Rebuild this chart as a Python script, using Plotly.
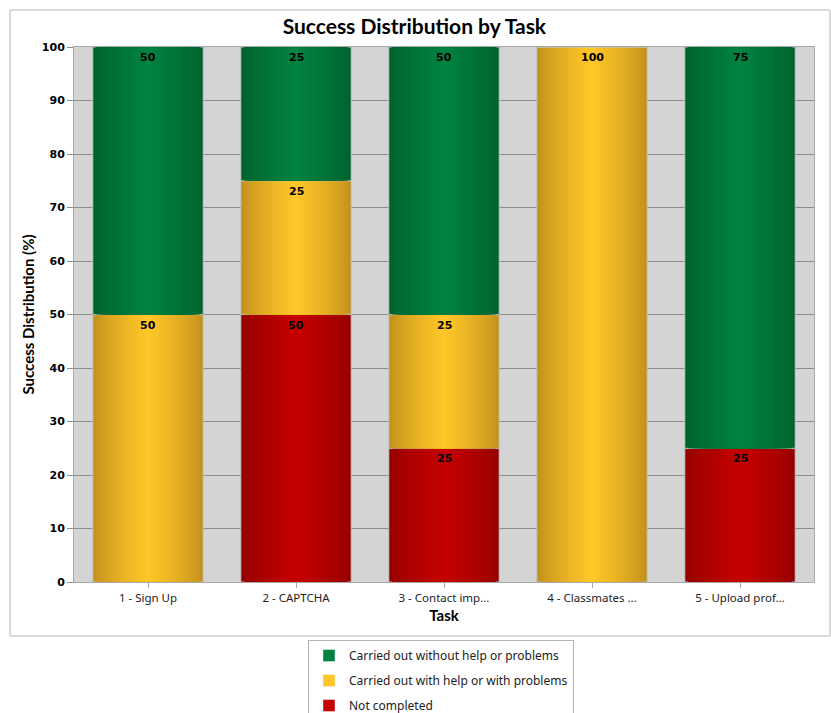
import plotly.graph_objects as go

tasks = ["1 - Sign Up", "2 - CAPTCHA", "3 - Contact imp...", "4 - Classmates ...", "5 - Upload prof..."]
not_completed = [0, 50, 25, 0, 25]
with_help = [50, 25, 25, 100, 0]
without_help = [50, 25, 50, 0, 75]
y_ticks = [0, 10, 20, 30, 40, 50, 60, 70, 80, 90, 100]

series = [
    # name, values, edge colour, centre colour
    ("Not completed", not_completed, (150, 0, 0), (196, 0, 0)),
    ("Carried out with help or with problems", with_help, (196, 146, 30), (255, 198, 40)),
    ("Carried out without help or problems", without_help, (0, 98, 46), (0, 130, 64)),
]

x = list(range(len(tasks)))
W = 0.745
N = 16

fig = go.Figure()

base = [0] * len(tasks)
bases = []
for name, vals, edge, centre in series:
    bases.append(list(base))
    for k in range(N):
        t = k / (N - 1)
        t = t ** 0.8
        c = tuple(int(round(edge[i] + (centre[i] - edge[i]) * t)) for i in range(3))
        col = "rgb(%d,%d,%d)" % c
        fig.add_trace(go.Bar(
            x=x, y=vals, base=list(base),
            width=W * (1 - k / N),
            marker=dict(color=col,
                        line=dict(width=1 if k == 0 else 0, color="rgba(190,200,195,0.8)")),
            showlegend=False, hoverinfo="skip",
        ))
    base = [b + v for b, v in zip(base, vals)]

# text labels at the top of each non-zero segment
annotations = []
for (name, vals, edge, centre), b in zip(series, bases):
    for i, v in enumerate(vals):
        if v > 0:
            annotations.append(dict(
                x=x[i], y=b[i] + v, xref="x", yref="y", text=str(v),
                showarrow=False, yanchor="top", yshift=-2,
                font=dict(family="DejaVu Sans", size=11, color="black", weight="bold"),
            ))

# legend entries (green, yellow, red)
for gi, (name, vals, edge, centre) in enumerate(reversed(series)):
    fig.add_trace(go.Bar(
        x=[None], y=[None], name=name, legendgroup="g%d" % gi,
        marker=dict(color="rgb(%d,%d,%d)" % centre),
        showlegend=True,
    ))

L, R, T, B = 74, 17, 47, 131
PW, PH = 831 - L - R, 713 - T - B

def px_x(p):
    return (p - L) / PW

def px_y(p):
    return (713 - B - p) / PH

fig.add_shape(type="rect", xref="paper", yref="paper",
              x0=px_x(10), x1=px_x(830), y0=px_y(636), y1=px_y(10),
              line=dict(color="#b4b4b4", width=1), layer="below")

fig.update_layout(
    width=831, height=713,
    margin=dict(l=L, r=R, t=T, b=B, autoexpand=False),
    barmode="overlay",
    paper_bgcolor="white",
    plot_bgcolor="#d4d4d4",
    annotations=annotations,
    title=dict(text="Success Distribution by Task", x=px_x(443), xanchor="center",
               y=1 - 27 / 713, yanchor="middle",
               font=dict(family="Lato", size=21, color="black", weight="bold")),
    legend=dict(orientation="v", x=px_x(308), xanchor="left", y=px_y(640), yanchor="top",
                bordercolor="#b4b4b4", borderwidth=1, bgcolor="white",
                traceorder="grouped", tracegroupgap=6,
                font=dict(family="Noto Sans", size=12, color="#222"),
                itemwidth=30),
    xaxis=dict(
        tickmode="array", tickvals=x, ticktext=tasks,
        range=[-0.5, len(tasks) - 0.5],
        showgrid=False, zeroline=False,
        showline=True, linecolor="#a8a8a8", mirror=True,
        ticks="outside", ticklen=5, tickcolor="#a8a8a8",
        tickfont=dict(family="Noto Sans", size=11.5, color="#222"),
        title=dict(text="Task", font=dict(family="Lato", size=15, color="black", weight="bold"),
                   standoff=6),
    ),
    yaxis=dict(
        range=[0, 100], tickmode="array", tickvals=y_ticks,
        showgrid=True, gridcolor="#8c8c8c", gridwidth=1, zeroline=False,
        showline=True, linecolor="#a8a8a8", mirror=True,
        ticks="outside", ticklen=6, tickcolor="#8c8c8c",
        tickfont=dict(family="DejaVu Sans", size=11, color="black", weight="bold"),
        title=dict(text="Success Distribution (%)",
                   font=dict(family="Lato", size=15, color="black", weight="bold"),
                   standoff=3),
    ),
)

fig.write_html("out.html")
